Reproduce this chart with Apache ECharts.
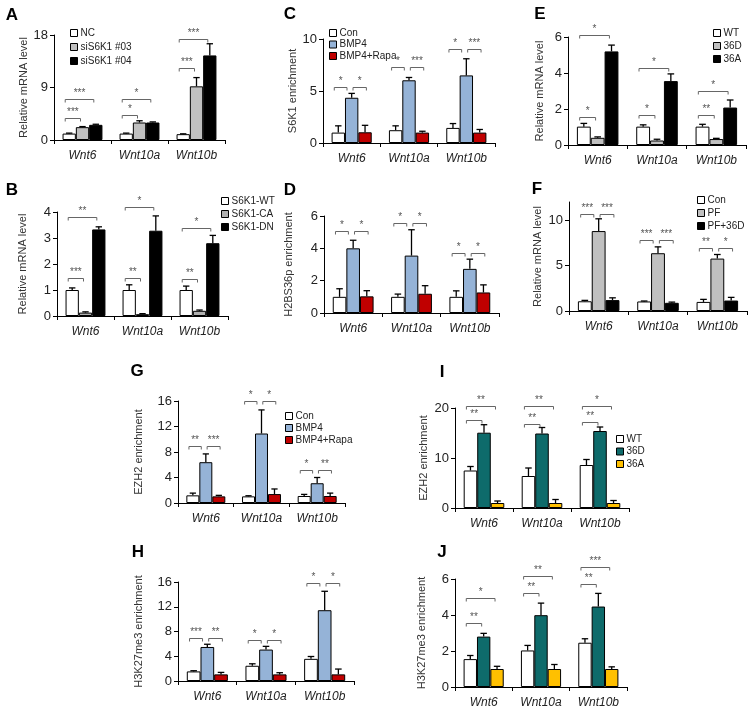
<!DOCTYPE html>
<html><head><meta charset="utf-8">
<script src="https://cdn.jsdelivr.net/npm/echarts@6/dist/echarts.min.js"></script>
<style>html,body{margin:0;padding:0;background:#fff}#c{width:754px;height:715px}</style>
</head><body><div id="c"></div>
<script>
// ---------- DATA ----------
const genes = ['Wnt6', 'Wnt10a', 'Wnt10b'];

// A
const aNames = ['NC', 'siS6K1 #03', 'siS6K1 #04'];
const aNC = [1.1, 1.1, 1.0],    aNCErr = [0.08, 0.08, 0.06];
const aSi03 = [2.2, 3.0, 9.2],  aSi03Err = [0.1, 0.3, 1.5];
const aSi04 = [2.6, 3.0, 14.5], aSi04Err = [0.1, 0.1, 2.0];
const aSig = [[0,0,1,3.7,'***'],[0,0,2,7.0,'***'],[1,0,1,4.3,'*'],[1,0,2,7.1,'*'],[2,0,1,12.4,'***'],[2,0,2,17.4,'***']];
const aTicks = [0, 9, 18];

// B
const bNames = ['S6K1-WT', 'S6K1-CA', 'S6K1-DN'];
const bWT = [1.0, 1.0, 1.0],   bWTErr = [0.08, 0.2, 0.15];
const bCA = [0.13, 0.07, 0.2], bCAErr = [0.03, 0.02, 0.03];
const bDN = [3.33, 3.28, 2.8], bDNErr = [0.1, 0.57, 0.3];
const bSig = [[0,0,1,1.45,'***'],[0,0,2,3.8,'**'],[1,0,1,1.45,'**'],[1,0,2,4.2,'*'],[2,0,1,1.44,'**'],[2,0,2,3.4,'*']];
const bTicks = [0, 1, 2, 3, 4];

// C
const cNames = ['Con', 'BMP4', 'BMP4+Rapa'];
const cCon = [1.0, 1.23, 1.45],  cConErr = [0.65, 0.42, 0.42];
const cBMP = [4.35, 6.03, 6.5],  cBMPErr = [0.42, 0.27, 1.6];
const cRapa = [1.03, 1.0, 1.0],  cRapaErr = [0.67, 0.13, 0.3];
const cSig = [[0,0,1,5.35,'*'],[0,1,2,5.35,'*'],[1,0,1,7.35,'*'],[1,1,2,7.35,'***'],[2,0,1,9.0,'*'],[2,1,2,9.0,'***']];
const cTicks = [0, 5, 10];

// D
const dCon = [1.0, 1.0, 1.0],   dConErr = [0.5, 0.17, 0.37];
const dBMP = [4.0, 3.55, 2.73], dBMPErr = [0.5, 1.6, 0.6];
const dRapa = [1.03, 1.19, 1.27], dRapaErr = [0.35, 0.5, 0.47];
const dSig = [[0,0,1,5.09,'*'],[0,1,2,5.09,'*'],[1,0,1,5.54,'*'],[1,1,2,5.54,'*'],[2,0,1,3.73,'*'],[2,1,2,3.73,'*']];
const dTicks = [0, 2, 4, 6];

// E
const eNames = ['WT', '36D', '36A'];
const eWT = [1.02, 1.02, 1.02], eWTErr = [0.18, 0.1, 0.13];
const e36D = [0.4, 0.25, 0.33], e36DErr = [0.05, 0.07, 0.04];
const e36A = [5.2, 3.55, 2.08], e36AErr = [0.35, 0.4, 0.42];
const eSig = [[0,0,1,1.57,'*'],[0,0,2,6.1,'*'],[1,0,1,1.67,'*'],[1,0,2,4.26,'*'],[2,0,1,1.67,'**'],[2,0,2,3.0,'*']];
const eTicks = [0, 2, 4, 6];

// F
const fNames = ['Con', 'PF', 'PF+36D'];
const fCon = [1.07, 1.05, 1.0], fConErr = [0.1, 0.05, 0.28];
const fPF = [8.8, 6.36, 5.77],  fPFErr = [1.35, 0.7, 0.45];
const f36D = [1.2, 0.9, 1.15],  f36DErr = [0.25, 0.08, 0.35];
const fSig = [[0,0,1,10.7,'***'],[0,1,2,10.7,'***'],[1,0,1,7.8,'***'],[1,1,2,7.8,'***'],[2,0,1,6.9,'**'],[2,1,2,6.9,'*']];
const fTicks = [0, 5, 10];

// G
const gCon = [1.2, 1.04, 1.1],  gConErr = [0.35, 0.1, 0.25];
const gBMP = [6.4, 10.9, 3.1],  gBMPErr = [1.3, 3.7, 0.9];
const gRapa = [1.04, 1.4, 1.1], gRapaErr = [0.16, 0.8, 0.45];
const gSig = [[0,0,1,9.0,'**'],[0,1,2,9.0,'***'],[1,0,1,16.0,'*'],[1,1,2,16.0,'*'],[2,0,1,5.1,'*'],[2,1,2,5.1,'**']];
const gTicks = [0, 4, 8, 12, 16];

// H
const hCon = [1.55, 2.46, 3.58], hConErr = [0.11, 0.32, 0.38];
const hBMP = [5.5, 5.08, 11.44], hBMPErr = [0.44, 0.52, 3.06];
const hRapa = [1.07, 1.07, 1.07], hRapaErr = [0.32, 0.27, 0.86];
const hSig = [[0,0,1,7.0,'***'],[0,1,2,7.0,'**'],[1,0,1,6.7,'*'],[1,1,2,6.7,'*'],[2,0,1,15.9,'*'],[2,1,2,15.9,'*']];
const hTicks = [0, 4, 8, 12, 16];

// I
const iWT = [7.5, 6.4, 8.6],      iWTErr = [0.8, 1.6, 1.1];
const i36D = [15.06, 14.9, 15.4], i36DErr = [1.6, 1.2, 0.8];
const i36A = [1.0, 1.0, 1.0],     i36AErr = [0.4, 0.7, 0.5];
const iSig = [[0,0,1,17.6,'**'],[0,0,2,20.5,'**'],[1,0,1,16.9,'**'],[1,0,2,20.5,'**'],[2,0,1,17.2,'**'],[2,0,2,20.5,'*']];
const iTicks = [0, 10, 20];

// J
const jWT = [1.55, 2.03, 2.46],  jWTErr = [0.2, 0.28, 0.22];
const j36D = [2.8, 3.99, 4.47],  j36DErr = [0.18, 0.67, 0.73];
const j36A = [1.0, 1.0, 1.0],    j36AErr = [0.15, 0.25, 0.12];
const jSig = [[0,0,1,3.54,'**'],[0,0,2,4.97,'*'],[1,0,1,5.25,'**'],[1,0,2,6.18,'**'],[2,0,1,5.72,'**'],[2,0,2,6.67,'***']];
const jTicks = [0, 2, 4, 6];

// ---------- STYLE / LAYOUT ----------
const FONT = 'Liberation Sans, Arial, sans-serif';
const GAP = 0.30;
const grayBW = ['#ffffff', '#c0c0c0', '#000000'];
const bmpCols = ['#ffffff', '#95b3d7', '#c00000'];
const tealCols = ['#ffffff', '#0e6b6b', '#ffc000'];

const panels = [
  {L:'A', lp:[12,15], names:aNames, vals:[aNC,aSi03,aSi04], errs:[aNCErr,aSi03Err,aSi04Err], sig:aSig, ticks:aTicks, max:18,
   cols:grayBW, yName:'Relative mRNA level', grid:[54,35,171,105], gapN:24, legend:{x:70,y:28,gap:4}},
  {L:'B', lp:[12,190], names:bNames, vals:[bWT,bCA,bDN], errs:[bWTErr,bCAErr,bDNErr], sig:bSig, ticks:bTicks, max:4,
   cols:['#ffffff','#b0b0b0','#000000'], yName:'Relative mRNA level', grid:[57,212,171,104], gapN:29, legend:{x:221,y:196,gap:3}},
  {L:'C', lp:[290,14], names:cNames, vals:[cCon,cBMP,cRapa], errs:[cConErr,cBMPErr,cRapaErr], sig:cSig, ticks:cTicks, max:10,
   cols:bmpCols, yName:'S6K1 enrichment', grid:[323,39,172,104], gapN:25, legend:{x:329,y:28,gap:1.5}},
  {L:'D', lp:[290,190], names:cNames, vals:[dCon,dBMP,dRapa], errs:[dConErr,dBMPErr,dRapaErr], sig:dSig, ticks:dTicks, max:6,
   cols:bmpCols, yName:'H2BS36p enrichment', grid:[324,216,175,97], gapN:30},
  {L:'E', lp:[540,14], names:eNames, vals:[eWT,e36D,e36A], errs:[eWTErr,e36DErr,e36AErr], sig:eSig, ticks:eTicks, max:6,
   cols:grayBW, yName:'Relative mRNA level', grid:[568,37,178,108], gapN:23, legend:{x:713,y:28,gap:3}},
  {L:'F', lp:[537,189], names:fNames, vals:[fCon,fPF,f36D], errs:[fConErr,fPFErr,f36DErr], sig:fSig, ticks:fTicks, max:12,
   cols:grayBW, yName:'Relative mRNA level', grid:[569,202,178,109], gapN:26, legend:{x:697,y:195,gap:3}},
  {L:'G', lp:[137,371], names:cNames, vals:[gCon,gBMP,gRapa], errs:[gConErr,gBMPErr,gRapaErr], sig:gSig, ticks:gTicks, max:16,
   cols:bmpCols, yName:'EZH2 enrichment', grid:[178,401,167,102], gapN:34, legend:{x:285,y:411,gap:2}},
  {L:'H', lp:[138,552], names:cNames, vals:[hCon,hBMP,hRapa], errs:[hConErr,hBMPErr,hRapaErr], sig:hSig, ticks:hTicks, max:16,
   cols:bmpCols, yName:'H3K27me3 enrichment', grid:[178,582,176,99], gapN:34},
  {L:'I', lp:[442,372], names:eNames, vals:[iWT,i36D,i36A], errs:[iWTErr,i36DErr,i36AErr], sig:iSig, ticks:iTicks, max:20,
   cols:tealCols, yName:'EZH2 enrichment', grid:[455,408,174,100], gapN:26, legend:{x:616,y:434,gap:2.5}},
  {L:'J', lp:[442,552], names:eNames, vals:[jWT,j36D,j36A], errs:[jWTErr,j36DErr,j36AErr], sig:jSig, ticks:jTicks, max:6,
   cols:tealCols, yName:'H3K27me3 enrichment', grid:[455,579,172,108], gapN:28}
];

// ---------- BUILD ----------
const grid = [], xAxis = [], yAxis = [], series = [], legend = [], graphic = [];

panels.forEach((p, pi) => {
  grid.push({left:p.grid[0], top:p.grid[1], width:p.grid[2], height:p.grid[3], containLabel:false});
  xAxis.push({type:'category', gridIndex:pi, data:genes,
    axisLine:{lineStyle:{color:'#000', width:1}},
    axisTick:{show:true, length:4, lineStyle:{color:'#000'}},
    axisLabel:{fontStyle:'italic', fontSize:12, color:'#222', fontFamily:FONT, margin:10}});
  yAxis.push({type:'value', gridIndex:pi, min:0, max:p.max,
    splitLine:{show:false},
    axisLine:{show:true, lineStyle:{color:'#000', width:1}},
    axisTick:{show:true, length:4, lineStyle:{color:'#000'}, customValues:p.ticks},
    axisLabel:{fontSize:13, color:'#222', fontFamily:FONT, margin:6, customValues:p.ticks},
    name:p.yName, nameLocation:'middle', nameRotate:90, nameGap:p.gapN,
    nameTextStyle:{fontSize:11, color:'#333', fontFamily:FONT}});

  for (let k = 0; k < 3; k++) {
    series.push({type:'bar', name:p.names[k], xAxisIndex:pi, yAxisIndex:pi, data:p.vals[k],
      barGap:'0%', barCategoryGap:(GAP*100)+'%', silent:true,
      itemStyle:{color:p.cols[k], borderColor:'#000', borderWidth:1}});
  }
  // error bars
  const errData = [];
  for (let k = 0; k < 3; k++) for (let c = 0; c < 3; c++) errData.push([c, p.vals[k][c], p.errs[k][c], k]);
  series.push({type:'custom', xAxisIndex:pi, yAxisIndex:pi, data:errData, silent:true, z:5, clip:false,
    encode:{x:0, y:1},
    renderItem:function(params, api){
      const c = api.value(0), v = api.value(1), e = api.value(2), k = api.value(3);
      const b = api.coord([c, v]), t = api.coord([c, v + e]);
      const bw = api.size([1, 0])[0] * (1 - GAP) / 3;
      const x = b[0] + (k - 1) * bw, h = bw * 0.24;
      return {type:'group', children:[
        {type:'line', shape:{x1:x, y1:b[1], x2:x, y2:t[1]}, style:{stroke:'#000', lineWidth:1.3}},
        {type:'line', shape:{x1:x - h, y1:t[1], x2:x + h, y2:t[1]}, style:{stroke:'#000', lineWidth:1.3}}
      ]};
    }});
  // significance brackets
  const pairStyle = p.sig.some(s => s[1] === 1);
  series.push({type:'custom', xAxisIndex:pi, yAxisIndex:pi, data:p.sig.map(s => [s[0], s[3]]), silent:true, z:6, clip:false,
    encode:{x:0, y:1},
    renderItem:function(params, api){
      const s = p.sig[params.dataIndex];
      const pt = api.coord([s[0], s[3]]);
      const bw = api.size([1, 0])[0] * (1 - GAP) / 3;
      const ci = pt[0] + (s[1] - 1) * bw, cj = pt[0] + (s[2] - 1) * bw;
      let x1, x2;
      if (s[1] === 0) { x1 = ci - 0.3 * bw; x2 = cj - (pairStyle ? 0.35 : 0.15) * bw; }
      else { x1 = ci + 0.1 * bw; x2 = cj + 0.1 * bw; }
      const y = Math.round(pt[1]) + 0.5, d = 3;
      return {type:'group', children:[
        {type:'polyline', shape:{points:[[x1, y + d], [x1, y], [x2, y], [x2, y + d]]}, style:{stroke:'#666', lineWidth:1, fill:null}},
        {type:'text', x:(x1 + x2) / 2, y:y - 1, style:{text:s[4], fill:'#555', fontSize:10, fontFamily:FONT, align:'center', verticalAlign:'bottom'}}
      ]};
    }});

  if (p.legend) {
    legend.push({orient:'vertical', left:p.legend.x, top:p.legend.y, padding:0, itemGap:p.legend.gap,
      itemWidth:7, itemHeight:7, icon:'rect', selectedMode:false,
      textStyle:{fontSize:10, color:'#222', fontFamily:FONT, padding:[0,0,0,-2]},
      data:p.names.map((n, k) => ({name:n, itemStyle:{color:p.cols[k], borderColor:'#000', borderWidth:1}}))});
  }
  graphic.push({type:'text', x:p.lp[0], y:p.lp[1],
    style:{text:p.L, font:'bold 17px ' + FONT, fill:'#000', align:'center', verticalAlign:'middle'}});
});

const chart = echarts.init(document.getElementById('c'), null, {renderer:'canvas'});
chart.setOption({animation:false, backgroundColor:'#fff', grid, xAxis, yAxis, series, legend, graphic, tooltip:{show:false}});
</script></body></html>
